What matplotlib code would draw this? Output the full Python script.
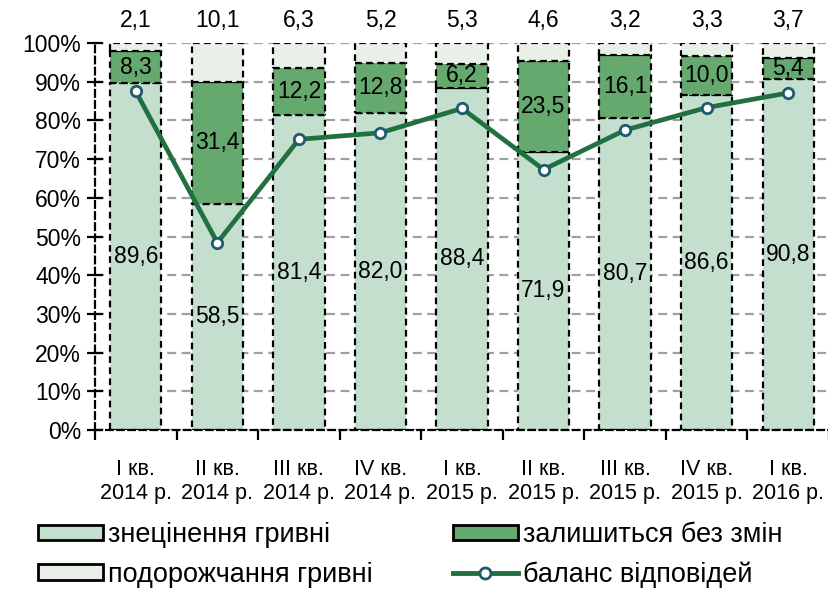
import matplotlib
matplotlib.use("Agg")
import matplotlib.pyplot as plt
import numpy as np
from matplotlib.patches import Patch
from matplotlib.lines import Line2D

categories = ["I кв.\n2014 р.", "II кв.\n2014 р.", "III кв.\n2014 р.", "IV кв.\n2014 р.",
              "I кв.\n2015 р.", "II кв.\n2015 р.", "III кв.\n2015 р.", "IV кв.\n2015 р.",
              "I кв.\n2016 р."]
devaluation = [89.6, 58.5, 81.4, 82.0, 88.4, 71.9, 80.7, 86.6, 90.8]
unchanged = [8.3, 31.4, 12.2, 12.8, 6.2, 23.5, 16.1, 10.0, 5.4]
appreciation = [2.1, 10.1, 6.3, 5.2, 5.3, 4.6, 3.2, 3.3, 3.7]
balance = [87.5, 48.4, 75.1, 76.8, 83.1, 67.3, 77.5, 83.3, 87.1]

names = ["знецінення гривні", "залишиться без змін", "подорожчання гривні", "баланс відповідей"]

c_low = "#C4DFCE"
c_mid = "#66A96F"
c_top = "#E8F0E8"
c_line = "#21703F"
c_mark = "#1F5A6E"

plt.rcParams['font.family'] = ['Liberation Sans', 'DejaVu Sans']

W, H = 829, 589
fig = plt.figure(figsize=(W / 100, H / 100), dpi=100)
ax = fig.add_axes([95 / W, 1 - 430 / H, 1 - 95 / W, (430 - 43) / H])

x = np.arange(len(categories))
w = 0.63
dev = np.array(devaluation)
mid = np.array(unchanged)
top = np.array(appreciation)

kw = dict(edgecolor="black", linewidth=1.6, linestyle=(0, (3, 2)), zorder=2)
ax.bar(x, dev, w, color=c_low, **kw)
ax.bar(x, mid, w, bottom=dev, color=c_mid, **kw)
ax.bar(x, top, w, bottom=dev + mid, color=c_top, **kw)

ax.plot(x, balance, color=c_line, lw=3.4, zorder=3, marker="o", ms=7.5,
        markerfacecolor="white", markeredgecolor=c_mark, markeredgewidth=2)

fs = 16.5
for i in range(len(x)):
    ax.text(x[i], dev[i] / 2, f"{devaluation[i]:.1f}".replace(".", ","), ha="center", va="center", fontsize=fs, zorder=4)
    ax.text(x[i], dev[i] + mid[i] / 2, f"{unchanged[i]:.1f}".replace(".", ","), ha="center", va="center", fontsize=fs, zorder=4)
    ax.text(x[i], 105.8, f"{appreciation[i]:.1f}".replace(".", ","), ha="center", va="center", fontsize=fs, zorder=4, clip_on=False)

ax.set_xlim(-0.5, len(x) - 0.5)
ax.set_ylim(0, 100)
ax.set_yticks(np.arange(0, 101, 10))
ax.set_yticklabels([f"{v}%" for v in range(0, 101, 10)], fontsize=16.5)
ax.yaxis.grid(True, color="#A0A0A0", linestyle=(0, (4, 2.5)), linewidth=1.6, zorder=0)
ax.set_axisbelow(True)

ax.set_xticks(np.arange(-0.5, len(x), 1.0))
ax.set_xticklabels([])
ax.set_xticks(x, minor=True)
ax.set_xticklabels(categories, minor=True, fontsize=15.5, linespacing=1.2)
ax.tick_params(axis="x", which="minor", length=0, pad=21)
ax.tick_params(axis="x", which="major", direction="out", length=7, width=1.6, color="black")
ax.tick_params(axis="y", direction="inout", length=12, width=1.6, color="black", pad=4)

for s in ["top", "right"]:
    ax.spines[s].set_visible(False)
for s in ["left", "bottom"]:
    ax.spines[s].set_linestyle((0, (3, 2)))
    ax.spines[s].set_linewidth(1.6)
    ax.spines[s].set_color("black")

handles = [
    Patch(facecolor=c_low, edgecolor="black", linewidth=2.0),
    Patch(facecolor=c_mid, edgecolor="black", linewidth=2.0),
    Patch(facecolor=c_top, edgecolor="black", linewidth=2.0),
    Line2D([0], [0], color=c_line, lw=3.5, marker="o", ms=8, markerfacecolor="white",
           markeredgecolor=c_mark, markeredgewidth=2),
]
leg_kw = dict(loc="upper left", frameon=False, fontsize=19.5, handlelength=2.4,
              handleheight=0.5, handletextpad=0.2, labelspacing=0.5,
              borderpad=0, borderaxespad=0)
fig.legend([handles[0], handles[2]], [names[0], names[2]],
           bbox_to_anchor=(38 / W, 1 - 522 / H), **leg_kw)
fig.legend([handles[1], handles[3]], [names[1], names[3]],
           bbox_to_anchor=(453 / W, 1 - 522 / H), **leg_kw)

fig.savefig("out.png", dpi=100)
